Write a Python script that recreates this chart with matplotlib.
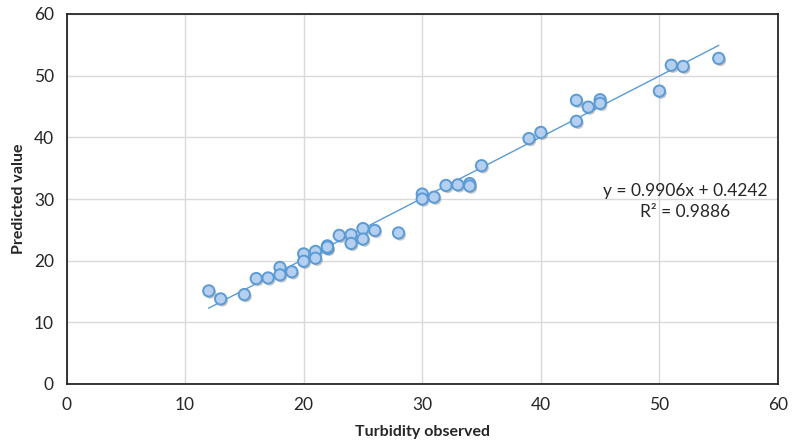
import numpy as np
import matplotlib
matplotlib.use("Agg")
import matplotlib.pyplot as plt
import matplotlib.patheffects as pe

plt.rcParams['font.family'] = ['Lato', 'DejaVu Sans']

observed = [12, 13, 15, 16, 17, 18, 18, 19, 20, 20, 21, 21, 22, 22, 22,
            23, 24, 24, 25, 25, 26, 28, 30, 30, 31, 32, 33, 34, 34, 35,
            39, 40, 43, 43, 44, 45, 45, 50, 51, 52, 55]
predicted = [15.1, 13.8, 14.5, 17.1, 17.2, 18.9, 17.7, 18.2, 21.1, 19.9,
             21.5, 20.4, 22.4, 22.0, 22.2, 24.1, 24.2, 22.8, 25.2, 23.5,
             24.9, 24.5, 30.8, 30.0, 30.3, 32.2, 32.3, 32.5, 32.1, 35.4,
             39.8, 40.8, 46.0, 42.6, 44.9, 46.1, 45.5, 47.5, 51.7, 51.5, 52.8]
eq_text = "y = 0.9906x + 0.4242\nR² = 0.9886"
slope, intercept = 0.9906, 0.4242

fig = plt.figure(figsize=(7.92, 4.45), dpi=100)
ax = fig.add_axes([66.5/792, 1-384/445, (778-66.5)/792, (384-14)/445])

ax.set_xlim(0, 60)
ax.set_ylim(0, 60)
ax.set_xticks(range(0, 61, 10))
ax.set_yticks(range(0, 61, 10))
ax.grid(True, color='#d9d9d9', linewidth=1)
ax.set_axisbelow(True)
for s in ax.spines.values():
    s.set_color('#262626')
    s.set_linewidth(1.3)
ax.tick_params(length=0, labelsize=12.5, colors='#262626', pad=9)

x = np.array(observed)
y = np.array(predicted)
ax.scatter(x, y, s=66, facecolor='#b4cff0', edgecolor='#5b9bd5', linewidth=1.4, zorder=3,
           path_effects=[pe.SimplePatchShadow(offset=(1.2, -1.5), alpha=0.3, shadow_rgbFace='#404040'), pe.Normal()])
xs = np.array([x.min(), x.max()])
ax.plot(xs, slope*xs + intercept, color='#5b9bd5', linewidth=1.0, zorder=2)

ax.text(52.2, 29.6, eq_text, ha='center', va='center', fontsize=12.5, color='#262626', linespacing=1.45)

ax.set_xlabel('Turbidity observed', fontsize=11.5, fontweight='bold', color='#262626', labelpad=9)
ax.set_ylabel('Predicted value', fontsize=11.5, fontweight='bold', color='#262626', labelpad=6)

fig.savefig('out.png', dpi=100)
